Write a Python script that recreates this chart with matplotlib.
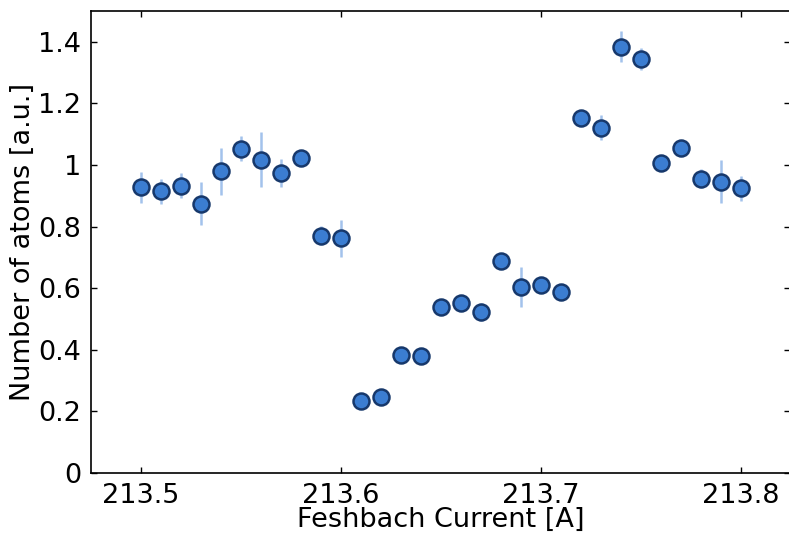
import numpy as np
import matplotlib
matplotlib.use("Agg")
import matplotlib.pyplot as plt

current = [213.50, 213.51, 213.52, 213.53, 213.54, 213.55, 213.56, 213.57, 213.58, 213.59,
           213.60, 213.61, 213.62, 213.63, 213.64, 213.65, 213.66, 213.67, 213.68, 213.69,
           213.70, 213.71, 213.72, 213.73, 213.74, 213.75, 213.76, 213.77, 213.78, 213.79,
           213.80]
atoms = [0.927, 0.914, 0.933, 0.875, 0.979, 1.053, 1.017, 0.975, 1.024, 0.771,
         0.762, 0.233, 0.246, 0.382, 0.379, 0.538, 0.551, 0.522, 0.687, 0.603,
         0.609, 0.587, 1.154, 1.121, 1.384, 1.345, 1.005, 1.056, 0.956, 0.946,
         0.924]
err = [0.05, 0.04, 0.04, 0.07, 0.077, 0.04, 0.09, 0.045, 0.01, 0.03,
       0.06, 0.01, 0.01, 0.01, 0.01, 0.01, 0.01, 0.03, 0.01, 0.065,
       0.01, 0.01, 0.01, 0.04, 0.05, 0.035, 0.01, 0.01, 0.03, 0.07,
       0.04]

plt.rcParams['font.family'] = 'DejaVu Sans'
plt.rcParams['font.size'] = 19.5

fig = plt.figure(figsize=(7.89, 5.34), dpi=100)
# right spine falls just past the image edge, as in the original crop
ax = fig.add_axes([91 / 789, 61 / 534, 699 / 789, 462 / 534])

ax.errorbar(current, atoms, yerr=err, fmt='o', color='#a3c2ec', elinewidth=1.8,
            capsize=0, markersize=11.5, markerfacecolor='#3b7dd1',
            markeredgecolor='#17386b', markeredgewidth=1.8)

ax.set_xlim(213.475, 213.8245)
ax.set_ylim(0, 1.5)
ax.set_xticks([213.5, 213.6, 213.7, 213.8])
ax.set_xticklabels(['213.5', '213.6', '213.7', '213.8'])
ax.set_yticks([0, 0.2, 0.4, 0.6, 0.8, 1.0, 1.2, 1.4])
ax.set_yticklabels(['0', '0.2', '0.4', '0.6', '0.8', '1', '1.2', '1.4'])
ax.tick_params(direction='in', top=True, right=True, length=4, width=1, pad=7)
for s in ax.spines.values():
    s.set_linewidth(1.2)

ax.set_xlabel('Feshbach Current [A]', labelpad=-1)
ax.set_ylabel('Number of atoms [a.u.]', labelpad=2)

fig.savefig('out.png', dpi=100)
